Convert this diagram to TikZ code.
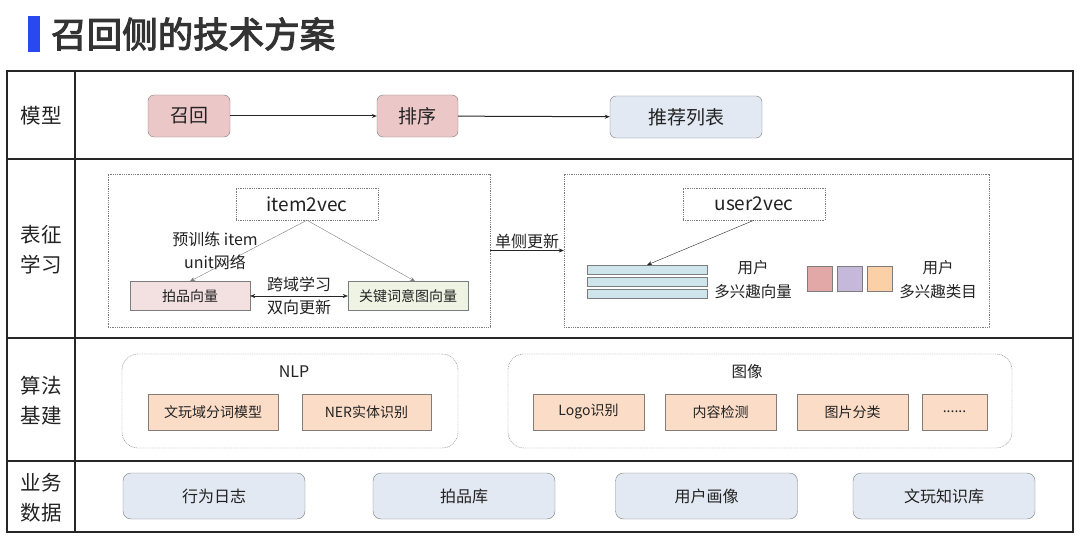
\documentclass[tikz,border=0pt]{standalone}
\usepackage{fontspec}
\setmainfont{Noto Sans CJK SC}
\newfontfamily\titlefont[FakeBold=3]{Noto Sans CJK SC}
\usetikzlibrary{
  arrows.meta,
  positioning,  % Function "of" (e.g. [right=of x])
}
\definecolor{titleblue}{RGB}{40,72,240}
\definecolor{txt}{RGB}{34,34,34}
\definecolor{edge}{RGB}{125,125,125}
\definecolor{recpink}{RGB}{236,199,199}
\definecolor{listblue}{RGB}{226,233,243}
\definecolor{itempink}{RGB}{243,225,225}
\definecolor{kwgreen}{RGB}{239,243,228}
\definecolor{vecblue}{RGB}{205,229,235}
\definecolor{catpink}{RGB}{226,168,168}
\definecolor{catpurple}{RGB}{198,184,218}
\definecolor{catorange}{RGB}{251,208,166}
\definecolor{algpeach}{RGB}{251,221,199}
\definecolor{datablue}{RGB}{227,233,242}
\newcommand{\fs}[1]{\fontsize{#1}{#1}\selectfont}
\tikzset{
  x=1pt,
  y=-1pt,
  semithick,
  >={Stealth[length=5pt,width=4pt]},
  grid line/.style={
    draw=black!85,
    line width=1.1pt
  },
  row label/.style={
    font=\fontsize{20.5}{30}\selectfont,
    text=txt,
    align=center
  },
  my model/.style={
    draw=edge,
    fill=recpink,
    rounded corners=6pt,
    minimum height=42pt,
    inner sep=0pt,
    font=\fs{19},
    text=txt
  },
  flow/.style={
    ->,
    draw=black!85,
    line width=1pt
  },
  my group/.style={
    draw=edge,
    dash pattern=on 1pt off 0.8pt,
    thin,
    minimum height=153pt,
    inner sep=0pt
  },
  my vec/.style={
    draw=edge,
    dash pattern=on 1pt off 0.8pt,
    thin,
    fill=white,
    minimum width=142pt,
    minimum height=32pt,
    inner sep=0pt,
    font=\fs{19},
    text=txt
  },
  my emb/.style={
    draw=edge,
    minimum width=120pt,
    minimum height=29pt,
    inner sep=0pt,
    font=\fs{14},
    text=txt
  },
  my bar/.style={
    draw=edge,
    fill=vecblue,
    minimum width=120pt,
    minimum height=8.5pt,
    inner sep=0pt
  },
  my cat/.style={
    draw=edge,
    minimum size=25pt,
    inner sep=0pt
  },
  my text/.style={
    font=\fontsize{16}{23}\selectfont,
    text=txt,
    align=center,
    inner sep=1pt
  },
  my algo group/.style={
    draw=edge,
    dash pattern=on 1pt off 0.8pt,
    thin,
    rounded corners=16pt,
    minimum height=94pt,
    inner sep=0pt
  },
  my algo/.style={
    draw=edge!90!brown,
    fill=algpeach,
    minimum height=36pt,
    inner sep=0pt,
    font=\fs{14},
    text=txt
  },
  my data/.style={
    draw=edge,
    fill=datablue,
    rounded corners=8pt,
    minimum width=182pt,
    minimum height=46pt,
    inner sep=0pt,
    font=\fs{16},
    text=txt
  }
}

\begin{document}
\begin{tikzpicture}
\useasboundingbox (0,0) rectangle (1080,543);
% Title
\fill[titleblue] (28,16) rectangle (40,52);
\node[anchor=west,inner sep=0pt,font=\titlefont\fs{35.5},text=black!80] (title) at (51,34) {召回侧的技术方案};
% Table frame
\draw[grid line] (7,71) rectangle (1073,532);
\draw[grid line] (75,71) -- (75,532);
\draw[grid line] (7,159) -- (1073,159);
\draw[grid line] (7,338) -- (1073,338);
\draw[grid line] (7,461) -- (1073,461);
\node[row label] (lmodel) at (41,116) {模型};
\node[row label] (lrep)   at (41,250) {表征\\学习};
\node[row label] (lalgo)  at (41,401) {算法\\基建};
\node[row label] (ldata)  at (41,498) {业务\\数据};
% Row 1: model
\node[my model,minimum width=82pt]              (recall) at (189,116)   {召回};
\node[my model,minimum width=81pt]              (rank)   at (417.5,116) {排序};
\node[my model,minimum width=152pt,fill=listblue] (list) at (686,117)   {推荐列表};
\draw[flow] (recall) -- (rank);
\draw[flow] (rank) -- (list);
% Row 2: item side
\node[my group,minimum width=382pt] (itemgrp) at (299,250.5) {};
\node[my vec] (i2v) at (307,204) {item2vec};
\node[my emb,fill=itempink] (pvec) at (190,296) {拍品向量};
\node[my emb,fill=kwgreen]  (kvec) at (408,296) {关键词意图向量};
\draw[->,thin,draw=edge] (i2v.south) -- (pvec.north);
\draw[->,thin,draw=edge] (i2v.south) -- ([xshift=7pt]kvec.north);
\node[my text] (pretrain) at (215,250.5) {预训练 item\\unit网络};
\draw[<->,draw=black!85] (pvec) -- node[my text,above=3pt] (cross) {跨域学习}
                     node[my text,below=3pt] (both)  {双向更新} (kvec);
% Row 2: user side
\node[my group,minimum width=425pt] (usergrp) at (776.5,250.5) {};
\draw[->,draw=black!85] (itemgrp) -- node[my text,above=1pt] (single) {单侧更新} (usergrp);
\node[my vec] (u2v) at (754,204) {user2vec};
\node[my bar] (bar1) at (647,269.5) {};
\node[my bar] (bar2) at (647,281.5) {};
\node[my bar] (bar3) at (647,293.5) {};
\draw[->,draw=black!85] (u2v.south) -- (bar1.north);
\node[my text,font=\fontsize{15.5}{24}\selectfont] (uvec) at (753,280) {用户\\多兴趣向量};
\node[my cat,fill=catpink]   (cat1) at (819.5,278.5) {};
\node[my cat,fill=catpurple] (cat2) at (849.5,278.5) {};
\node[my cat,fill=catorange] (cat3) at (879.5,278.5) {};
\node[my text,font=\fontsize{15.5}{24}\selectfont] (ucat) at (938,280) {用户\\多兴趣类目};
% Row 3: algorithms
\node[my algo group,minimum width=336pt] (nlpgrp) at (290,401) {};
\node[my text] (nlp) at (294,372) {NLP};
\node[my algo,minimum width=130pt] (seg) at (213,412)   {文玩域分词模型};
\node[my algo,minimum width=129pt] (ner) at (366.5,412) {NER实体识别};
\node[my algo group,minimum width=504pt] (imggrp) at (760,401) {};
\node[my text,font=\fs{15.5}] (img) at (747,372) {图像};
\node[my algo,minimum width=111pt] (logo)   at (588.5,412) {Logo识别};
\node[my algo,minimum width=111pt] (detect) at (720.5,412) {内容检测};
\node[my algo,minimum width=111pt] (cls)    at (852.5,412) {图片分类};
\node[my algo,minimum width=65pt]  (more)   at (954.5,412) {......};
% Row 4: data
\node[my data] (log)     at (214,496)   {行为日志};
\node[my data] (lot)     at (464,496)   {拍品库};
\node[my data] (profile) at (706.5,496) {用户画像};
\node[my data] (kb)      at (944,496)   {文玩知识库};
\end{tikzpicture}
\end{document}
